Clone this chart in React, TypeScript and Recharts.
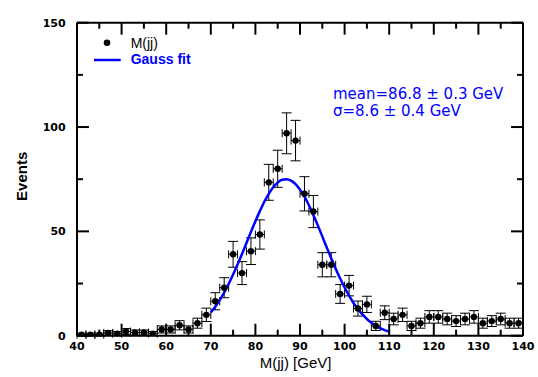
import React from "react";
import { ComposedChart, Scatter, Line, XAxis, YAxis, ErrorBar } from "recharts";

// ---- data ----
const massBins = [
  41, 43, 45, 47, 49, 51, 53, 55, 57, 59,
  61, 63, 65, 67, 69, 71, 73, 75, 77, 79,
  81, 83, 85, 87, 89, 91, 93, 95, 97, 99,
  101, 103, 105, 107, 109, 111, 113, 115, 117, 119,
  121, 123, 125, 127, 129, 131, 133, 135, 137, 139,
];
const events = [
  0.5, 0.5, 0.5, 1.3, 1, 2, 1.5, 1.5, 1, 3,
  3, 5, 3, 6, 10, 16.5, 23, 39, 30, 40.5,
  48.5, 73.5, 80, 97, 93.5, 68, 59.5, 34, 34, 20,
  24, 13, 15, 4.7, 11, 8, 10, 4.7, 6, 9,
  9, 8, 7, 8, 9, 6, 7, 8, 6, 6,
];
const eventErrors = [
  0.7, 0.7, 0.7, 1.1, 1, 1.4, 1.2, 1.2, 1, 1.7,
  1.7, 2.2, 1.7, 2.4, 3.2, 4.1, 4.8, 6.2, 5.5, 6.4,
  7, 8.6, 8.9, 9.8, 9.7, 8.2, 7.7, 5.8, 5.8, 4.5,
  4.9, 3.6, 3.9, 2.2, 3.3, 2.8, 3.2, 2.2, 2.4, 3,
  3, 2.8, 2.6, 2.8, 3, 2.4, 2.6, 2.8, 2.4, 2.4,
];
const binHalfWidth = 1;

const fitMass = [
  70, 71, 72, 73, 74, 75, 76, 77, 78, 79,
  80, 81, 82, 83, 84, 85, 86, 87, 88, 89,
  90, 91, 92, 93, 94, 95, 96, 97, 98, 99,
  100, 101, 102, 103, 104, 105, 106, 107, 108, 109, 110,
];
const fitEvents = [
  11.1, 13.9, 17.1, 20.7, 24.8, 29.3, 34.1, 39.2, 44.4, 49.7,
  54.9, 59.7, 64.2, 68.0, 71.1, 73.4, 74.7, 75.0, 74.3, 72.6,
  70.0, 66.6, 62.5, 57.8, 52.8, 47.6, 42.3, 37.1, 32.1, 27.4,
  23.1, 19.2, 15.7, 12.7, 10.2, 8.0, 6.2, 4.8, 3.6, 2.7, 2.0,
];

const xTicks = [40, 45, 50, 55, 60, 65, 70, 75, 80, 85, 90, 95, 100, 105, 110, 115, 120, 125, 130, 135, 140];
const yTicks = [0, 25, 50, 75, 100, 125, 150];
const xMajorStep = 10;
const yMajorStep = 50;

const legendLabels = ["M(jj)", "Gauss fit"];
const fitLabels = ["mean=86.8 \u00b1 0.3 GeV", "\u03c3=8.6 \u00b1 0.4 GeV"];
const xTitle = "M(jj) [GeV]";
const yTitle = "Events";

const pointData = massBins.map((m, i) => ({ x: m, y: events[i], ey: eventErrors[i], ex: binHalfWidth }));
const fitData = fitMass.map((m, i) => ({ x: m, fit: fitEvents[i] }));

// ---- layout ----
const W = 530;
const H = 369;
const PL = 69;
const PR = 515;
const PT = 14.7;
const PB = 327.7;
const BLUE = "#0000ff";
const TICK_FONT = "'DejaVu Sans', sans-serif";
const LABEL_FONT = "'Liberation Sans', Arial, sans-serif";

const BottomTick = (props: any) => {
  const { x, payload } = props;
  const v = payload.value;
  const major = v % xMajorStep === 0;
  return (
    <g>
      <line x1={x} x2={x} y1={PB} y2={PB - (major ? 12 : 6)} stroke="#000" strokeWidth={2} />
      {major && (
        <text x={x} y={342} textAnchor="middle" fontFamily={TICK_FONT} fontWeight="bold" fontSize={11} fill="#000">
          {v}
        </text>
      )}
    </g>
  );
};

const TopTick = (props: any) => {
  const { x, payload } = props;
  const major = payload.value % xMajorStep === 0;
  return <line x1={x} x2={x} y1={PT} y2={PT + (major ? 12 : 6)} stroke="#000" strokeWidth={2} />;
};

const LeftTick = (props: any) => {
  const { y, payload } = props;
  const v = payload.value;
  const major = v % yMajorStep === 0;
  return (
    <g>
      <line x1={PL} x2={PL + (major ? 12 : 6)} y1={y} y2={y} stroke="#000" strokeWidth={2} />
      {major && (
        <text x={57.7} y={y + 4} textAnchor="end" fontFamily={TICK_FONT} fontWeight="bold" fontSize={11} fill="#000">
          {v}
        </text>
      )}
    </g>
  );
};

const RightTick = (props: any) => {
  const { y, payload } = props;
  const major = payload.value % yMajorStep === 0;
  return <line x1={PR} x2={PR - (major ? 12 : 6)} y1={y} y2={y} stroke="#000" strokeWidth={2} />;
};

const Dot = (props: any) => <circle cx={props.cx} cy={props.cy} r={3.2} fill="#000" />;

export default function App() {
  return (
    <div style={{ position: "relative", width: 538, height: 377, overflow: "hidden" }}>
      <style>{"body{margin:0}"}</style>
      <div style={{ position: "absolute", left: 8, top: 8, width: W, height: H }}>
        <ComposedChart width={W} height={H} margin={{ top: 0, right: 0, bottom: 0, left: 0 }}>
          <XAxis
            xAxisId="b"
            type="number"
            dataKey="x"
            domain={[40, 140]}
            ticks={xTicks}
            interval={0}
            tick={<BottomTick />}
            tickLine={false}
            axisLine={{ stroke: "#000", strokeWidth: 2 }}
            height={H - PB}
            allowDataOverflow
          />
          <XAxis
            xAxisId="t"
            orientation="top"
            type="number"
            dataKey="x"
            domain={[40, 140]}
            ticks={xTicks}
            interval={0}
            tick={<TopTick />}
            tickLine={false}
            axisLine={{ stroke: "#000", strokeWidth: 2 }}
            height={PT}
            allowDataOverflow
          />
          <YAxis
            yAxisId="l"
            type="number"
            domain={[0, 150]}
            ticks={yTicks}
            interval={0}
            tick={<LeftTick />}
            tickLine={false}
            axisLine={{ stroke: "#000", strokeWidth: 2 }}
            width={PL}
            allowDataOverflow
          />
          <YAxis
            yAxisId="r"
            orientation="right"
            type="number"
            domain={[0, 150]}
            ticks={yTicks}
            interval={0}
            tick={<RightTick />}
            tickLine={false}
            axisLine={{ stroke: "#000", strokeWidth: 2 }}
            width={W - PR}
            allowDataOverflow
          />
          <Scatter
            xAxisId="b"
            yAxisId="l"
            data={pointData}
            dataKey="y"
            shape={<Dot />}
            isAnimationActive={false}
            legendType="none"
          >
            <ErrorBar dataKey="ey" direction="y" width={5} stroke="#000" strokeWidth={1} isAnimationActive={false} />
            <ErrorBar dataKey="ex" direction="x" width={4} stroke="#000" strokeWidth={1} isAnimationActive={false} />
          </Scatter>
          <Line
            xAxisId="b"
            yAxisId="l"
            data={fitData}
            dataKey="fit"
            type="monotone"
            stroke={BLUE}
            strokeWidth={2.5}
            dot={false}
            activeDot={false}
            isAnimationActive={false}
            legendType="none"
          />
        </ComposedChart>
        <svg
          width={W}
          height={H}
          style={{ position: "absolute", left: 0, top: 0, pointerEvents: "none", overflow: "visible" }}
        >
          <g transform="translate(86 22)">
            <circle cx={13} cy={12.7} r={3.3} fill="#000" />
            <text x={36.7} y={17.5} fontFamily={LABEL_FONT} fontSize={14} fill="#000">
              {legendLabels[0]}
            </text>
            <line x1={0} x2={26.7} y1={30} y2={30} stroke={BLUE} strokeWidth={2.5} />
            <text x={36.7} y={34.3} fontFamily={LABEL_FONT} fontSize={14} fontWeight="bold" fill={BLUE}>
              {legendLabels[1]}
            </text>
          </g>
          <text x={325} y={91} fontFamily={TICK_FONT} fontSize={15} fill={BLUE}>
            {fitLabels[0]}
          </text>
          <text x={325} y={108} fontFamily={TICK_FONT} fontSize={15} fill={BLUE}>
            {fitLabels[1]}
          </text>
          <text x={287.6} y={360.3} textAnchor="middle" fontFamily={LABEL_FONT} fontSize={15} fill="#000">
            {xTitle}
          </text>
          <text
            x={19.3}
            y={168.3}
            transform="rotate(-90 19.3 168.3)"
            textAnchor="middle"
            fontFamily={LABEL_FONT}
            fontSize={15}
            fontWeight="bold"
            fill="#000"
          >
            {yTitle}
          </text>
        </svg>
      </div>
    </div>
  );
}
